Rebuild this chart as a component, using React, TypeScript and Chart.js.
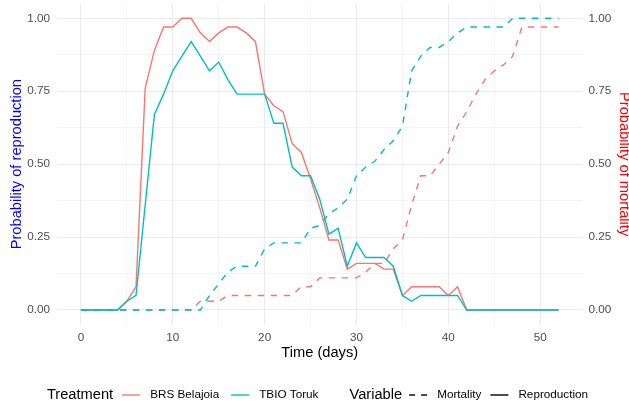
import React, { useEffect, useRef } from "react";
import { Chart, registerables } from "chart.js";

Chart.register(...registerables);

// ---------- data ----------
const days = [
  0, 1, 2, 3, 4, 5, 6, 7, 8, 9, 10, 11, 12, 13, 14, 15, 16, 17, 18, 19, 20,
  21, 22, 23, 24, 25, 26, 27, 28, 29, 30, 31, 32, 33, 34, 35, 36, 37, 38, 39,
  40, 41, 42, 43, 44, 45, 46, 47, 48, 49, 50, 51, 52,
];

// BRS Belajoia – reproduction (solid red)
const brsReproduction = [
  0, 0, 0, 0, 0, 0.03, 0.08, 0.76, 0.89, 0.97, 0.97, 1.0, 1.0, 0.95, 0.92,
  0.95, 0.97, 0.97, 0.95, 0.92, 0.74, 0.7, 0.68, 0.57, 0.54, 0.45, 0.35, 0.24,
  0.24, 0.14, 0.16, 0.16, 0.16, 0.14, 0.14, 0.05, 0.08, 0.08, 0.08, 0.08, 0.05,
  0.08, 0, 0, 0, 0, 0, 0, 0, 0, 0, 0, 0,
];

// TBIO Toruk – reproduction (solid cyan)
const torukReproduction = [
  0, 0, 0, 0, 0, 0.03, 0.05, 0.36, 0.67, 0.74, 0.82, 0.87, 0.92, 0.87, 0.82,
  0.85, 0.79, 0.74, 0.74, 0.74, 0.74, 0.64, 0.64, 0.49, 0.46, 0.46, 0.38, 0.26,
  0.28, 0.15, 0.23, 0.18, 0.18, 0.18, 0.15, 0.05, 0.03, 0.05, 0.05, 0.05, 0.05,
  0.05, 0, 0, 0, 0, 0, 0, 0, 0, 0, 0, 0,
];

// BRS Belajoia – mortality (dashed red)
const brsMortality = [
  0, 0, 0, 0, 0, 0, 0, 0, 0, 0, 0, 0, 0, 0.03, 0.03, 0.03, 0.05, 0.05, 0.05,
  0.05, 0.05, 0.05, 0.05, 0.05, 0.08, 0.08, 0.11, 0.11, 0.11, 0.11, 0.11, 0.13,
  0.16, 0.16, 0.21, 0.24, 0.36, 0.46, 0.46, 0.5, 0.54, 0.63, 0.68, 0.74, 0.79,
  0.82, 0.84, 0.87, 0.97, 0.97, 0.97, 0.97, 0.97,
];

// TBIO Toruk – mortality (dashed cyan)
const torukMortality = [
  0, 0, 0, 0, 0, 0, 0, 0, 0, 0, 0, 0, 0, 0, 0.05, 0.09, 0.13, 0.15, 0.15, 0.15,
  0.21, 0.23, 0.23, 0.23, 0.23, 0.28, 0.29, 0.33, 0.35, 0.38, 0.46, 0.49, 0.51,
  0.55, 0.58, 0.63, 0.82, 0.87, 0.9, 0.9, 0.92, 0.95, 0.97, 0.97, 0.97, 0.97,
  0.97, 1.0, 1.0, 1.0, 1.0, 1.0, 1.0,
];

const xMajorTicks = [0, 10, 20, 30, 40, 50];
const xMinorTicks = [5, 15, 25, 35, 45];
const yMajorTicks = [0, 0.25, 0.5, 0.75, 1];
const yMinorTicks = [0.125, 0.375, 0.625, 0.875];
const yTickLabels = ["0.00", "0.25", "0.50", "0.75", "1.00"];

const treatmentNames = ["BRS Belajoia", "TBIO Toruk"];
const treatmentColors = ["#F8766D", "#00BFC4"];
const variableNames = ["Mortality", "Reproduction"];

// ---------- styling ----------
const FONT = "'Liberation Sans', Arial, Helvetica, sans-serif";
const DASH = [6.5, 6.5];
const LINE_W = 1.4;
const GRID = "#EBEBEB";
const TICK_COLOR = "#4D4D4D";

const toPoints = (vals: number[]) => days.map((d, i) => ({ x: d, y: vals[i] }));

const legendPlugin = {
  id: "ggLegend",
  afterDraw(chart: any) {
    const ctx: CanvasRenderingContext2D = chart.ctx;
    ctx.save();
    const titleFont = `14.67px ${FONT}`;
    const labelFont = `11.73px ${FONT}`;
    const swatchW = 18;
    const labelGap = 10;
    const groupGap = 31;
    const cy = 395;
    const groups = [
      {
        title: "Treatment",
        titleGap: 9,
        itemGap: 12,
        keys: treatmentNames.map((n, i) => ({ label: n, color: treatmentColors[i], dash: [] as number[] })),
      },
      {
        title: "Variable",
        titleGap: 7,
        itemGap: 9,
        keys: variableNames.map((n, i) => ({ label: n, color: "#000000", dash: i === 0 ? [6, 6] : [] })),
      },
    ];
    let total = 0;
    groups.forEach((g, gi) => {
      ctx.font = titleFont;
      total += ctx.measureText(g.title).width + g.titleGap;
      ctx.font = labelFont;
      g.keys.forEach((k, ki) => {
        total += swatchW + labelGap + ctx.measureText(k.label).width;
        if (ki < g.keys.length - 1) total += g.itemGap;
      });
      if (gi < groups.length - 1) total += groupGap;
    });
    let x = 317.5 - total / 2;
    ctx.textBaseline = "middle";
    ctx.textAlign = "left";
    groups.forEach((g, gi) => {
      ctx.font = titleFont;
      ctx.fillStyle = "#000000";
      ctx.fillText(g.title, x, cy);
      x += ctx.measureText(g.title).width + g.titleGap;
      g.keys.forEach((k, ki) => {
        ctx.beginPath();
        ctx.strokeStyle = k.color;
        ctx.lineWidth = LINE_W;
        ctx.lineCap = "butt";
        ctx.setLineDash(k.dash);
        ctx.moveTo(x, cy);
        ctx.lineTo(x + swatchW, cy);
        ctx.stroke();
        ctx.setLineDash([]);
        x += swatchW + labelGap;
        ctx.font = labelFont;
        ctx.fillStyle = "#000000";
        ctx.fillText(k.label, x, cy);
        x += ctx.measureText(k.label).width;
        if (ki < g.keys.length - 1) x += g.itemGap;
      });
      if (gi < groups.length - 1) x += groupGap;
    });
    ctx.restore();
  },
};

export default function App() {
  const canvasRef = useRef<HTMLCanvasElement | null>(null);

  useEffect(() => {
    document.body.style.margin = "0";
    const canvas = canvasRef.current;
    if (!canvas) return;

    const allX = [...xMajorTicks, ...xMinorTicks].sort((a, b) => a - b);
    const allY = [...yMajorTicks, ...yMinorTicks].sort((a, b) => a - b);
    const tickFont = { family: FONT, size: 11.73 };
    const titleFont = { family: FONT, size: 14.67 };

    const yLabel = (v: number) => {
      const i = yMajorTicks.findIndex((t) => Math.abs(t - v) < 1e-9);
      return i >= 0 ? yTickLabels[i] : "";
    };

    const vFit = (w: number) => (s: any) => {
      s.width = w;
      s.paddingTop = 0;
      s.paddingBottom = 0;
      s.paddingLeft = 0;
      s.paddingRight = 0;
    };

    const chart = new Chart(canvas, {
      type: "line",
      data: {
        datasets: [
          {
            label: `${treatmentNames[1]} ${variableNames[1]}`,
            data: toPoints(torukReproduction),
            borderColor: treatmentColors[1],
            borderWidth: LINE_W,
            pointRadius: 0,
            tension: 0,
            fill: false,
            yAxisID: "y",
          },
          {
            label: `${treatmentNames[1]} ${variableNames[0]}`,
            data: toPoints(torukMortality),
            borderColor: treatmentColors[1],
            borderWidth: LINE_W,
            borderDash: DASH,
            pointRadius: 0,
            tension: 0,
            fill: false,
            yAxisID: "y",
          },
          {
            label: `${treatmentNames[0]} ${variableNames[1]}`,
            data: toPoints(brsReproduction),
            borderColor: treatmentColors[0],
            borderWidth: LINE_W,
            pointRadius: 0,
            tension: 0,
            fill: false,
            yAxisID: "y",
          },
          {
            label: `${treatmentNames[0]} ${variableNames[0]}`,
            data: toPoints(brsMortality),
            borderColor: treatmentColors[0],
            borderWidth: LINE_W,
            borderDash: DASH,
            pointRadius: 0,
            tension: 0,
            fill: false,
            yAxisID: "y",
          },
        ],
      },
      options: {
        animation: false,
        responsive: false,
        devicePixelRatio: 1,
        layout: { padding: { top: 3.7, left: 0, right: 0, bottom: 0 } },
        plugins: {
          legend: { display: false },
          tooltip: { enabled: false },
        },
        scales: {
          x: {
            type: "linear",
            min: -2.6,
            max: 54.6,
            afterBuildTicks: (s: any) => {
              s.ticks = allX.map((v) => ({ value: v }));
            },
            afterFit: (s: any) => {
              s.height = 77.4;
              s.paddingLeft = 0;
              s.paddingRight = 0;
              s.paddingTop = 0;
              s.paddingBottom = 0;
            },
            grid: {
              color: GRID,
              lineWidth: (c: any) => (xMajorTicks.includes(c.tick?.value) ? 1.07 : 0.53),
              drawTicks: false,
            },
            border: { display: false },
            ticks: {
              padding: 6,
              color: TICK_COLOR,
              font: tickFont,
              maxRotation: 0,
              autoSkip: false,
              callback: (v: any) => (xMajorTicks.includes(Number(v)) ? String(v) : ""),
            },
            title: {
              display: true,
              text: "Time (days)",
              color: "#000000",
              font: titleFont,
              padding: { top: 0, bottom: 40 },
            },
          },
          y: {
            type: "linear",
            position: "left",
            min: -0.05,
            max: 1.05,
            afterBuildTicks: (s: any) => {
              s.ticks = allY.map((v) => ({ value: v }));
            },
            afterFit: vFit(57),
            grid: {
              color: GRID,
              lineWidth: (c: any) =>
                yMajorTicks.some((t) => Math.abs(t - (c.tick?.value ?? -1)) < 1e-9) ? 1.07 : 0.53,
              drawTicks: false,
            },
            border: { display: false },
            ticks: {
              padding: 7,
              color: TICK_COLOR,
              font: tickFont,
              autoSkip: false,
              callback: (v: any) => yLabel(Number(v)),
            },
            title: {
              display: true,
              text: "Probability of reproduction",
              color: "#0000FF",
              font: titleFont,
              padding: { top: 8, bottom: 0 },
            },
          },
          y2: {
            type: "linear",
            position: "right",
            min: -0.05,
            max: 1.05,
            afterBuildTicks: (s: any) => {
              s.ticks = yMajorTicks.map((v) => ({ value: v }));
            },
            afterFit: vFit(46.5),
            grid: { display: false, drawTicks: false },
            border: { display: false },
            ticks: {
              padding: 6,
              color: TICK_COLOR,
              font: tickFont,
              autoSkip: false,
              callback: (v: any) => yLabel(Number(v)),
            },
            title: {
              display: true,
              text: "Probability of mortality",
              color: "#FF0000",
              font: { family: FONT, size: 14.67, lineHeight: 0.7 },
              padding: { top: 0, bottom: 0 },
            },
          },
        },
      },
      plugins: [legendPlugin],
    } as any);

    return () => {
      chart.destroy();
    };
  }, []);

  return (
    <div style={{ width: 629, height: 402, background: "#ffffff" }}>
      <canvas ref={canvasRef} width={629} height={402} style={{ width: 629, height: 402, display: "block" }} />
    </div>
  );
}
